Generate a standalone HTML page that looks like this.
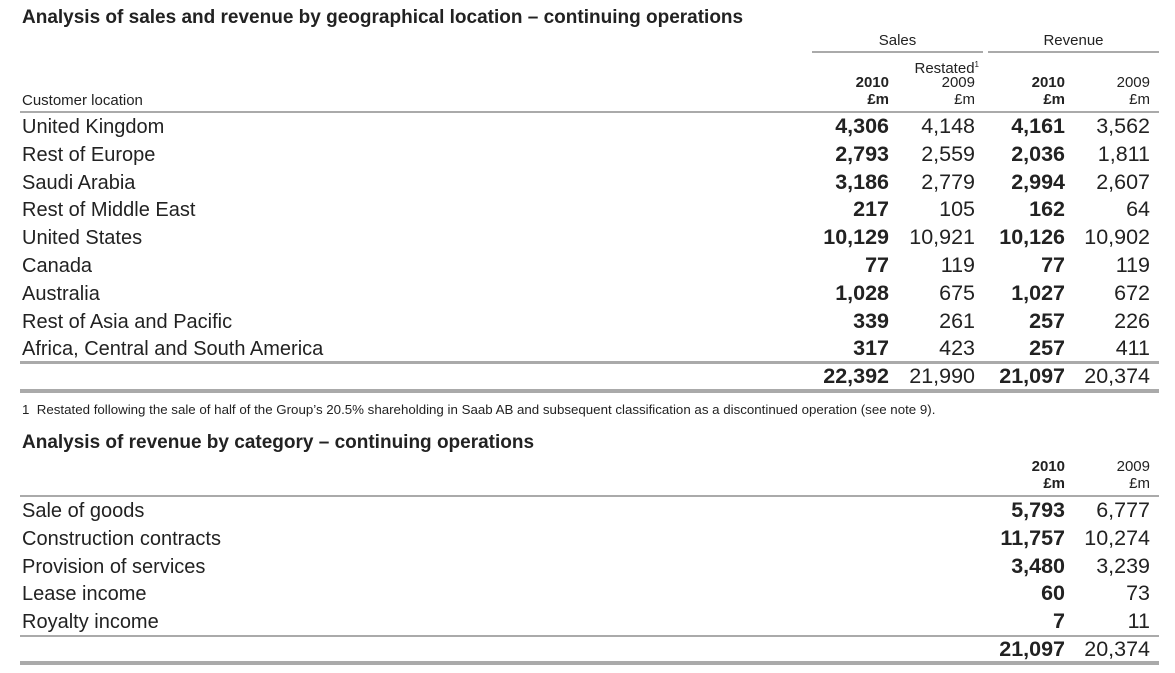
<!DOCTYPE html>
<html><head><meta charset="utf-8"><style>
body{margin:0;width:1175px;height:673px;background:#fff;position:relative;font-family:"Liberation Sans",Arial,sans-serif;color:#222;overflow:hidden}
.a{position:absolute;white-space:nowrap}
.t{font-weight:bold;font-size:19px;left:22px}
.h{font-size:15px;line-height:17px;text-align:right}
.r{font-size:20px}
.n{font-size:21.5px;text-align:right;width:120px}
.b{font-weight:bold}
.ln{position:absolute;background:#aaa;height:1px}
.tk{position:absolute;background:#aaa;height:3px}
</style></head><body>
<div class="a t" style="top:7px">Analysis of sales and revenue by geographical location – continuing operations</div>
<div class="a h" style="left:812px;width:171px;text-align:center;top:32px">Sales</div>
<div class="a h" style="left:988px;width:171px;text-align:center;top:32px">Revenue</div>
<div class="ln" style="left:812px;width:171px;top:51px;height:2px"></div>
<div class="ln" style="left:988px;width:171px;top:51px;height:2px"></div>
<div class="a h" style="right:196px;top:56px">Restated<sup style="font-size:8px">1</sup></div>
<div class="a h b" style="right:286px;top:74px">2010<br>£m</div>
<div class="a h" style="right:200px;top:74px">2009<br>£m</div>
<div class="a h b" style="right:110px;top:74px">2010<br>£m</div>
<div class="a h" style="right:25px;top:74px">2009<br>£m</div>
<div class="a h" style="left:22px;top:92px;text-align:left">Customer location</div>
<div class="ln" style="left:20px;width:1139px;top:111px;height:2px"></div>
<div id="rows"></div>
<div class="ln" style="left:20px;width:1139px;top:361px;height:3px"></div>
<div class="tk" style="left:20px;width:1139px;top:389px;height:4px"></div>
<div class="a" style="left:22px;top:402px;font-size:13.3px">1&nbsp; Restated following the sale of half of the Group’s 20.5% shareholding in Saab AB and subsequent classification as a discontinued operation (see note 9).</div>
<div class="a t" style="top:432px">Analysis of revenue by category – continuing operations</div>
<div class="a h b" style="right:110px;top:458px">2010<br>£m</div>
<div class="a h" style="right:25px;top:458px">2009<br>£m</div>
<div class="ln" style="left:20px;width:1139px;top:495px;height:2px"></div>
<div class="ln" style="left:20px;width:1139px;top:635px;height:2px"></div>
<div class="tk" style="left:20px;width:1139px;top:661px;height:4px"></div>
<script>
var d=[["United Kingdom","4,306","4,148","4,161","3,562"],["Rest of Europe","2,793","2,559","2,036","1,811"],["Saudi Arabia","3,186","2,779","2,994","2,607"],["Rest of Middle East","217","105","162","64"],["United States","10,129","10,921","10,126","10,902"],["Canada","77","119","77","119"],["Australia","1,028","675","1,027","672"],["Rest of Asia and Pacific","339","261","257","226"],["Africa, Central and South America","317","423","257","411"],["","22,392","21,990","21,097","20,374"]];
var d2=[["Sale of goods","5,793","6,777"],["Construction contracts","11,757","10,274"],["Provision of services","3,480","3,239"],["Lease income","60","73"],["Royalty income","7","11"],["","21,097","20,374"]];
var h="",R=[286,200,110,25];
d.forEach(function(r,i){var y=116+i*27.8+(i==9?0:0);h+='<div class="a r" style="left:22px;top:'+y+'px">'+r[0]+'</div>';for(var j=1;j<5;j++)h+='<div class="a n'+(j%2?' b':'')+'" style="right:'+R[j-1]+'px;top:'+(y-2)+'px">'+r[j]+'</div>';});
d2.forEach(function(r,i){var y=500+i*27.8;h+='<div class="a r" style="left:22px;top:'+y+'px">'+r[0]+'</div>';h+='<div class="a n b" style="right:110px;top:'+(y-2)+'px">'+r[1]+'</div><div class="a n" style="right:25px;top:'+(y-2)+'px">'+r[2]+'</div>';});
document.getElementById("rows").innerHTML=h;
</script>
</body></html>
